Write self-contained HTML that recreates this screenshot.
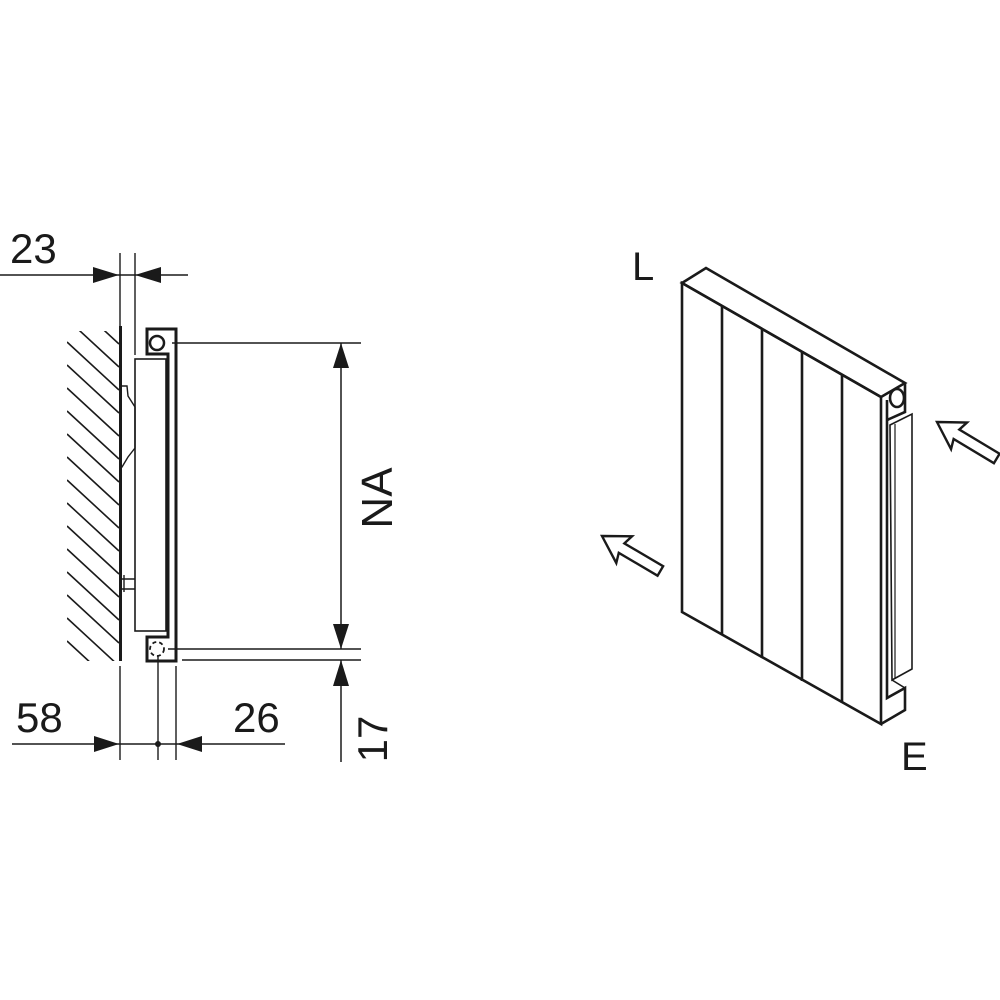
<!DOCTYPE html>
<html><head><meta charset="utf-8"><style>
html,body{margin:0;padding:0;background:#fff}
svg{display:block}
text{font-family:"Liberation Sans",sans-serif;fill:#1a1a1a}
</style></head><body>
<svg width="1000" height="1000" viewBox="0 0 1000 1000" xmlns="http://www.w3.org/2000/svg">
<defs><clipPath id="hc"><rect x="67" y="331" width="52" height="330"/></clipPath></defs>
<g stroke="#1a1a1a" fill="none" stroke-linecap="butt">
<!-- hatch -->
<g clip-path="url(#hc)" stroke-width="1.6">
<line x1="67" y1="296" x2="119" y2="344"/>
<line x1="67" y1="319" x2="119" y2="367"/>
<line x1="67" y1="342" x2="119" y2="390"/>
<line x1="67" y1="365" x2="119" y2="413"/>
<line x1="67" y1="388" x2="119" y2="436"/>
<line x1="67" y1="411" x2="119" y2="459"/>
<line x1="67" y1="434" x2="119" y2="482"/>
<line x1="67" y1="457" x2="119" y2="505"/>
<line x1="67" y1="480" x2="119" y2="528"/>
<line x1="67" y1="503" x2="119" y2="551"/>
<line x1="67" y1="526" x2="119" y2="574"/>
<line x1="67" y1="549" x2="119" y2="597"/>
<line x1="67" y1="572" x2="119" y2="620"/>
<line x1="67" y1="595" x2="119" y2="643"/>
<line x1="67" y1="618" x2="119" y2="666"/>
<line x1="67" y1="641" x2="119" y2="689"/>
</g>
<!-- wall -->
<line x1="120.5" y1="326" x2="120.5" y2="661" stroke-width="3"/>
<!-- bracket -->
<path d="M121,386 H127 L128,396 L135,407 V448 L128,457 L122,467 H121" stroke-width="1.4"/>
<path d="M121,579 H135 M121,589 H135 M124,575 V592" stroke-width="1.4"/>
<!-- body panel -->
<rect x="135" y="359" width="31" height="272" stroke-width="1.6"/>
<!-- profile -->
<path d="M147,329 H176 V661 H147 V637 H168 V354 H147 Z" stroke-width="3"/>
<circle cx="157" cy="343" r="7" stroke-width="2.5"/>
<circle cx="157" cy="649" r="7" stroke-width="1.8" stroke-dasharray="4,3"/>
<!-- dim 23 -->
<line x1="0" y1="275" x2="188" y2="275" stroke-width="1.5"/>
<line x1="120" y1="253" x2="120" y2="326" stroke-width="1.4"/>
<line x1="135" y1="253" x2="135" y2="355" stroke-width="1.4"/>
<!-- NA dims -->
<line x1="172" y1="343" x2="361" y2="343" stroke-width="1.5"/>
<line x1="168" y1="649" x2="361" y2="649" stroke-width="1.5"/>
<line x1="182" y1="660" x2="361" y2="660" stroke-width="1.5"/>
<line x1="341" y1="343" x2="341" y2="649" stroke-width="1.5"/>
<line x1="341" y1="660" x2="341" y2="762" stroke-width="1.5"/>
<!-- bottom dims -->
<line x1="12" y1="744" x2="285" y2="744" stroke-width="1.5"/>
<line x1="120" y1="666" x2="120" y2="760" stroke-width="1.4"/>
<line x1="158" y1="656" x2="158" y2="760" stroke-width="1.4"/>
<line x1="176" y1="666" x2="176" y2="760" stroke-width="1.4"/>
</g>
<g fill="#1a1a1a">
<polygon points="119,275 93,267 93,283"/>
<polygon points="135,275 161,267 161,283"/>
<polygon points="341,343 333,368 349,368"/>
<polygon points="341,649 333,624 349,624"/>
<polygon points="341,660 333,686 349,686"/>
<polygon points="119,744 94,736 94,752"/>
<polygon points="177,744 202,736 202,752"/>
<circle cx="158" cy="744" r="3"/>
</g>
<text x="10" y="263" font-size="42">23</text>
<text x="16" y="732" font-size="42">58</text>
<text x="233" y="732" font-size="42">26</text>
<text transform="translate(392,498) rotate(-90)" text-anchor="middle" font-size="44">NA</text>
<text transform="translate(387,739) rotate(-90)" text-anchor="middle" font-size="42">17</text>

<!-- right iso radiator -->
<g stroke="#1a1a1a" fill="none" stroke-width="2.6" stroke-linejoin="miter">
<polygon points="682,283 706,268 905,383 881,397"/>
<polygon points="682,283 881,397 881,724 682,612"/>
<line x1="722" y1="306" x2="722" y2="635"/>
<line x1="762" y1="329" x2="762" y2="658"/>
<line x1="802" y1="352" x2="802" y2="681"/>
<line x1="842" y1="374" x2="842" y2="703"/>
<path d="M905,383 V412 L887,420"/>
<ellipse cx="897" cy="398" rx="7" ry="9"/>
<path d="M887,400 V698 L905,688 V710 L881,724"/>
<path d="M890,425 L912,414 V669 L892,680 Z" stroke-width="1.6"/>
<line x1="895" y1="424" x2="895" y2="679" stroke-width="1.2"/>
<path d="M892,680 L905,688" stroke-width="1.6"/>
<!-- arrows -->
<g transform="translate(602,536) rotate(30.5)" stroke-width="2.4">
<polygon points="0,0 26,-15 23,-5 68,-5 68,6 23,6 26,16"/>
</g>
<g transform="translate(937,422) rotate(31)" stroke-width="2.4">
<polygon points="0,0 26,-15 23,-5 70,-5 70,6 23,6 26,16"/>
</g>
</g>
<text x="632" y="280" font-size="40">L</text>
<text x="901" y="770" font-size="40">E</text>
</svg>
</body></html>
